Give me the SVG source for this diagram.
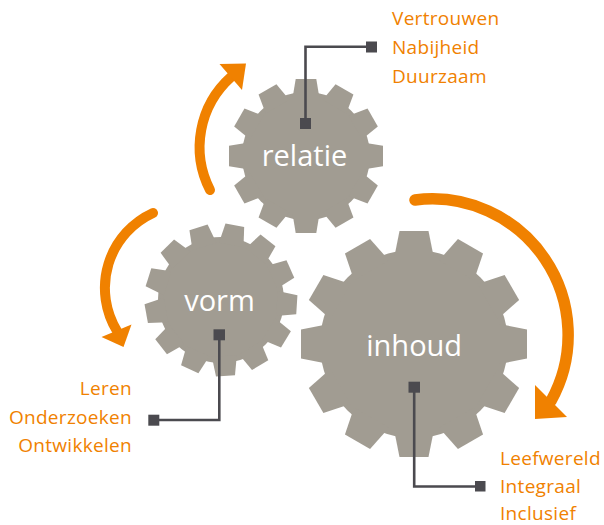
<svg xmlns="http://www.w3.org/2000/svg" xmlns:xlink="http://www.w3.org/1999/xlink" width="604" height="525" viewBox="0 0 604 525">
  <style>
    .gear { fill: #A19C92; }
    .glabel { font-family: "Open Sans", "Noto Sans", sans-serif; font-size: 29px; fill: #FFFFFF; text-anchor: middle; }
    .olabel { font-family: "Open Sans", "Noto Sans", sans-serif; font-size: 19px; fill: #F08100; letter-spacing: 0.3px; }
    .arc { fill: none; stroke: #F08100; stroke-linecap: round; }
    .head { fill: #F08100; }
    .lead { fill: none; stroke: #4B4A4F; stroke-width: 2.6; }
    .dot { fill: #4B4A4F; }
  </style>
  <defs>
    <polygon id="toothL" points="-14.5,-113 14.5,-113 20.1,-85 -20.1,-85"/>
    <polygon id="toothM" points="-10.3,-77 10.3,-77 13.6,-57 -13.6,-57"/>
    <polygon id="toothS" points="-9.5,-76 9.5,-76 12.5,-56 -12.5,-56"/>
  </defs>

  <g id="arrows">
    <path class="arc" stroke-width="10" d="M210,190 A94,94 0 0 1 231,77"/>
    <polygon class="head" points="219.5,64 246,63.5 242,90"/>
    <path class="arc" stroke-width="10" d="M153,213 A82.5,82.5 0 0 0 117,331"/>
    <polygon class="head" points="101.5,337 131.5,324.5 123.5,347"/>
    <path class="arc" stroke-width="11.5" d="M415,200 A136,136 0 0 1 551,401"/>
    <polygon class="head" points="535,385 567,417 535,419"/>
  </g>

  <g id="gear-relatie">
    <g class="gear" transform="translate(306,156)">
      <circle r="64"/>
      <use xlink:href="#toothM" transform="rotate(0)"/>
      <use xlink:href="#toothM" transform="rotate(30)"/>
      <use xlink:href="#toothM" transform="rotate(60)"/>
      <use xlink:href="#toothM" transform="rotate(90)"/>
      <use xlink:href="#toothM" transform="rotate(120)"/>
      <use xlink:href="#toothM" transform="rotate(150)"/>
      <use xlink:href="#toothM" transform="rotate(180)"/>
      <use xlink:href="#toothM" transform="rotate(210)"/>
      <use xlink:href="#toothM" transform="rotate(240)"/>
      <use xlink:href="#toothM" transform="rotate(270)"/>
      <use xlink:href="#toothM" transform="rotate(300)"/>
      <use xlink:href="#toothM" transform="rotate(330)"/>
    </g>
    <text class="glabel" x="304.5" y="166">relatie</text>
  </g>

  <g id="gear-vorm">
    <g class="gear" transform="translate(221,300)">
      <circle r="63"/>
      <use xlink:href="#toothS" transform="rotate(-17.2)"/>
      <use xlink:href="#toothS" transform="rotate(10.5)"/>
      <use xlink:href="#toothS" transform="rotate(38.2)"/>
      <use xlink:href="#toothS" transform="rotate(65.9)"/>
      <use xlink:href="#toothS" transform="rotate(93.6)"/>
      <use xlink:href="#toothS" transform="rotate(121.3)"/>
      <use xlink:href="#toothS" transform="rotate(149)"/>
      <use xlink:href="#toothS" transform="rotate(176.6)"/>
      <use xlink:href="#toothS" transform="rotate(204.3)"/>
      <use xlink:href="#toothS" transform="rotate(232)"/>
      <use xlink:href="#toothS" transform="rotate(259.7)"/>
      <use xlink:href="#toothS" transform="rotate(287.4)"/>
      <use xlink:href="#toothS" transform="rotate(315.1)"/>
    </g>
    <text class="glabel" x="219.5" y="311">vorm</text>
  </g>

  <g id="gear-inhoud">
    <g class="gear" transform="translate(414,344)">
      <circle r="94"/>
      <use xlink:href="#toothL" transform="rotate(0)"/>
      <use xlink:href="#toothL" transform="rotate(30)"/>
      <use xlink:href="#toothL" transform="rotate(60)"/>
      <use xlink:href="#toothL" transform="rotate(90)"/>
      <use xlink:href="#toothL" transform="rotate(120)"/>
      <use xlink:href="#toothL" transform="rotate(150)"/>
      <use xlink:href="#toothL" transform="rotate(180)"/>
      <use xlink:href="#toothL" transform="rotate(210)"/>
      <use xlink:href="#toothL" transform="rotate(240)"/>
      <use xlink:href="#toothL" transform="rotate(270)"/>
      <use xlink:href="#toothL" transform="rotate(300)"/>
      <use xlink:href="#toothL" transform="rotate(330)"/>
    </g>
    <text class="glabel" x="414.2" y="356">inhoud</text>
  </g>

  <g id="connectors">
    <polyline class="lead" points="305.5,123 305.5,46.7 371,46.7"/>
    <rect class="dot" x="300" y="118" width="11" height="11"/>
    <rect class="dot" x="366" y="41.5" width="11" height="11"/>
    <polyline class="lead" points="219.3,335 219.3,420 154,420"/>
    <rect class="dot" x="213.5" y="329.3" width="11.5" height="11"/>
    <rect class="dot" x="148.3" y="414.7" width="11" height="11"/>
    <polyline class="lead" points="414.2,387 414.2,486.5 480,486.5"/>
    <rect class="dot" x="408.5" y="381.7" width="11.5" height="11"/>
    <rect class="dot" x="475" y="481" width="10.5" height="10.5"/>
  </g>

  <g id="label-relatie">
    <text class="olabel" x="392" y="25">Vertrouwen</text>
    <text class="olabel" x="392" y="54">Nabijheid</text>
    <text class="olabel" x="392" y="83">Duurzaam</text>
  </g>
  <g id="label-vorm">
    <text class="olabel" x="132" y="395" text-anchor="end">Leren</text>
    <text class="olabel" x="132" y="423.5" text-anchor="end">Onderzoeken</text>
    <text class="olabel" x="132" y="452" text-anchor="end">Ontwikkelen</text>
  </g>
  <g id="label-inhoud">
    <text class="olabel" x="500" y="464.5">Leefwereld</text>
    <text class="olabel" x="500" y="492.5">Integraal</text>
    <text class="olabel" x="500" y="519.5">Inclusief</text>
  </g>
</svg>
